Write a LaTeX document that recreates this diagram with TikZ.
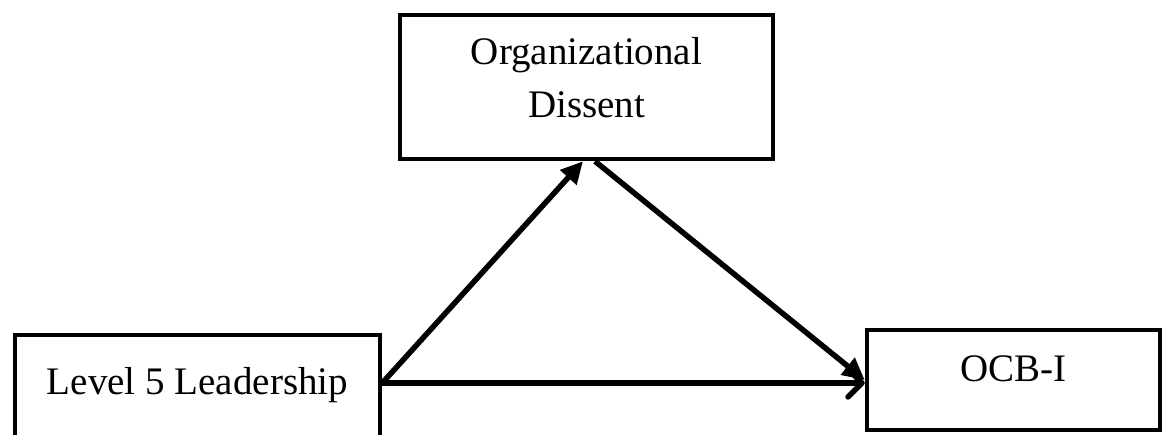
\documentclass[tikz,border=0pt]{standalone}
\usepackage{fontspec}
\setmainfont{Liberation Serif}
\usetikzlibrary{arrows.meta,calc}
\begin{document}
\begin{tikzpicture}[x=1pt,y=-1pt,
  box/.style={draw=black,line width=4.5pt,inner sep=0pt,align=center,
    font=\fontsize{39}{53}\selectfont,text height=27pt},
  conn/.style={line width=5.5pt,black},
  diag/.style={conn,-{Triangle[length=22pt,width=21pt]}},
  horiz/.style={conn,line cap=round,-{Straight Barb[length=14pt,width=28pt,line cap=round,line join=round]}}]
\useasboundingbox (0,0) rectangle (1165,435);
\fill[white] (0,0) rectangle (1165,435);
\node[box,minimum width=373pt,minimum height=144pt,text height=80pt,text depth=18pt] (T) at (586.5,87) {Organizational\\Dissent};
\node[box,minimum width=365pt,minimum height=110pt,text depth=17pt] (L) at (197.5,390) {Level 5 Leadership};
\node[box,minimum width=293pt,minimum height=100pt,text depth=23pt] (R) at (1013.5,380) {OCB-I};
\draw[diag] ([yshift=7pt]L.east) -- ([xshift=-3.5pt]T.south);
\draw[diag] ([xshift=8.5pt]T.south) -- (R.west);
\draw[horiz] ([yshift=7pt]L.east) -- ([yshift=-3pt]R.west);
\end{tikzpicture}
\end{document}
